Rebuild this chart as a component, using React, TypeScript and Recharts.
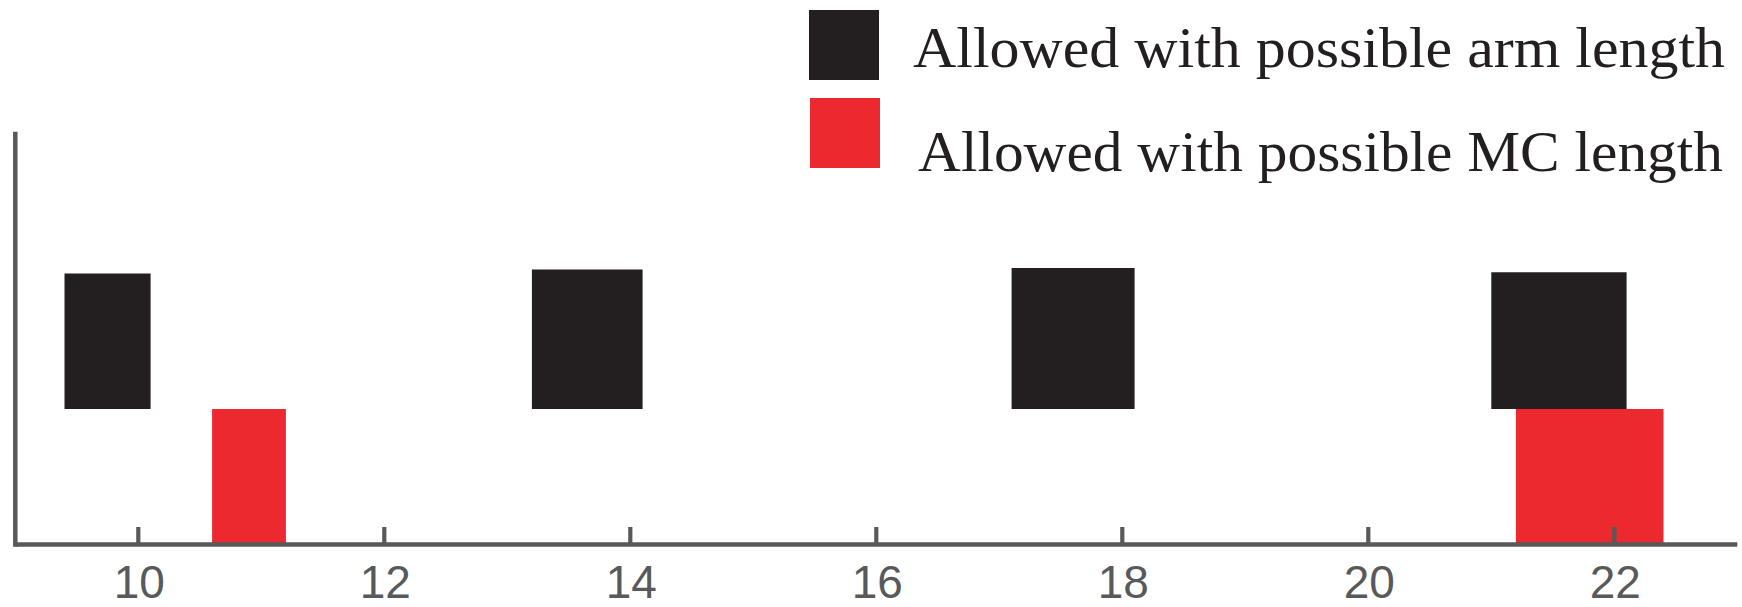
import React from 'react';
import { ComposedChart, XAxis, YAxis, ReferenceArea, Legend, Scatter } from 'recharts';

// ---- data ----
const xTicks = [10, 12, 14, 16, 18, 20, 22];
const xDomain = [9, 23];
const yDomain = [0, 3.03];

// "Allowed with possible arm length" (black) blocks
const armStart = [9.4, 13.2, 17.1, 21.0];
const armEnd = [10.1, 14.1, 18.1, 22.1];
const armLow = [1, 1, 1, 1];
const armHigh = [2.0, 2.03, 2.04, 2.01];

// "Allowed with possible MC length" (red) blocks
const mcStart = [10.6, 21.2];
const mcEnd = [11.2, 22.4];
const mcLow = [0, 0];
const mcHigh = [1, 1];

const legendLabels = ['Allowed with possible arm length', 'Allowed with possible MC length'];

// anchor points (block corners) so the axes have data
const anchorData = [
  ...armStart.map((s, i) => ({ x: s, y: armLow[i] })),
  ...armEnd.map((e, i) => ({ x: e, y: armHigh[i] })),
  ...mcStart.map((s, i) => ({ x: s, y: mcLow[i] })),
  ...mcEnd.map((e, i) => ({ x: e, y: mcHigh[i] })),
];

// ---- styles ----
const BLACK = '#231f20';
const RED = '#ec292e';
const AXIS = '#58595b';
const legendColors = [BLACK, RED];

const XTick = (props: any) => {
  const { x, y, payload } = props;
  return (
    <g>
      <line x1={x} x2={x} y1={y - 17.5} y2={y} stroke={AXIS} strokeWidth={4.2} />
      <text
        x={x + 1}
        y={y + 53}
        textAnchor="middle"
        fill={AXIS}
        fontSize={46}
        fontFamily="'Liberation Sans', Arial, sans-serif"
      >
        {payload.value}
      </text>
    </g>
  );
};

const LegendContent = () => (
  <svg width={1742} height={185} style={{ display: 'block' }}>
    {legendLabels.map((label, i) => (
      <g key={label}>
        <rect x={809 + i} y={10 + i * 88} width={70} height={70} fill={legendColors[i]} />
        <text
          x={913 + i * 5}
          y={67 + i * 104}
          fontSize={58}
          fill={BLACK}
          fontFamily="'Liberation Serif', 'DejaVu Serif', serif"
          textLength={i === 0 ? 812 : 805}
          lengthAdjust="spacingAndGlyphs"
        >
          {label}
        </text>
      </g>
    ))}
  </svg>
);

const NoShape = () => <g />;

export default function App() {
  return (
    <div style={{ position: 'absolute', left: 0, top: 0, width: 1742, height: 607, background: '#fff' }}>
      <ComposedChart
        width={1742}
        height={607}
        data={anchorData}
        margin={{ top: 134, right: 4.7, bottom: 61.5, left: 14.3 }}
      >
        <XAxis
          type="number"
          dataKey="x"
          domain={xDomain}
          ticks={xTicks}
          allowDataOverflow
          height={1}
          tickSize={0}
          tickMargin={0}
          tickLine={false}
          axisLine={{ stroke: AXIS, strokeWidth: 4.5 }}
          tick={<XTick />}
          interval={0}
        />
        <YAxis
          type="number"
          dataKey="y"
          domain={yDomain}
          allowDataOverflow
          width={1}
          tick={false}
          tickLine={false}
          axisLine={{ stroke: AXIS, strokeWidth: 4.5, strokeLinecap: 'square' }}
        />
        <Scatter data={anchorData} dataKey="y" shape={<NoShape />} isAnimationActive={false} legendType="none" />
        {armStart.map((s, i) => (
          <ReferenceArea
            key={`arm-${i}`}
            x1={s}
            x2={armEnd[i]}
            y1={armLow[i]}
            y2={armHigh[i]}
            fill={BLACK}
            fillOpacity={1}
            stroke="none"
            ifOverflow="visible"
          />
        ))}
        {mcStart.map((s, i) => (
          <ReferenceArea
            key={`mc-${i}`}
            x1={s}
            x2={mcEnd[i]}
            y1={mcLow[i]}
            y2={mcHigh[i]}
            fill={RED}
            fillOpacity={1}
            stroke="none"
            ifOverflow="visible"
          />
        ))}
        <Legend
          layout="horizontal"
          verticalAlign="middle"
          align="center"
          content={<LegendContent />}
          wrapperStyle={{ position: 'absolute', left: 0, top: 0, width: 1742, height: 185 }}
        />
      </ComposedChart>
    </div>
  );
}
